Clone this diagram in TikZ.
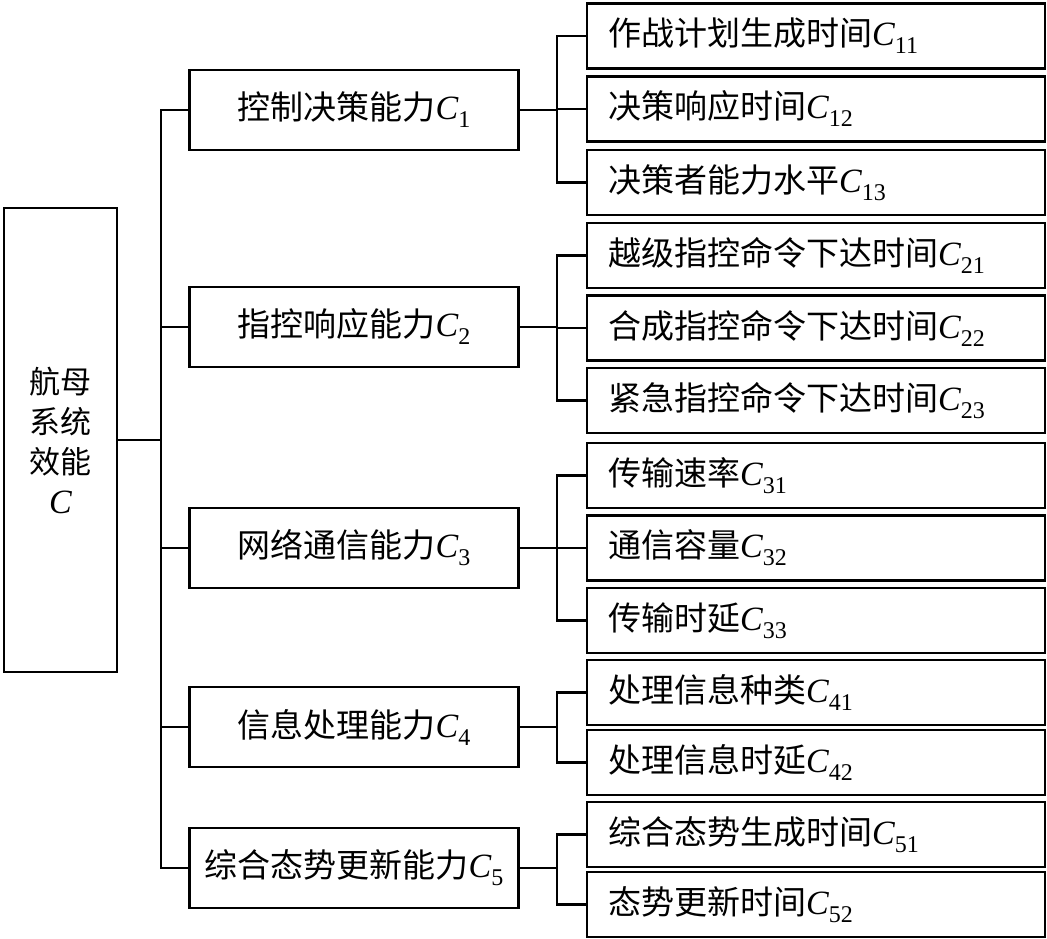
\documentclass[tikz,border=0pt]{standalone}
\usepackage{fontspec}
\setmainfont{Liberation Serif}
\newfontfamily\cjk{Noto Sans CJK SC}
\newcommand\lsub[1]{\raisebox{-8pt}{\fontsize{24}{24}\selectfont #1}}
\newcommand\bigC{{\fontsize{34}{36}\selectfont\textit{C}}}
\newcommand\lab[2]{{\cjk #1}\bigC\lsub{#2}}
\begin{document}
\begin{tikzpicture}[x=1pt,y=-1pt,
  box/.style={draw,line width=2.5pt,inner sep=0pt,font=\fontsize{33}{38}\selectfont},
  leaf/.style={box,minimum height=65pt,inner xsep=21pt,text width=416pt,align=left},
  mid/.style={box,minimum width=329pt,minimum height=80pt,align=center},
  ln/.style={line width=2.5pt,line cap=rect}]
\useasboundingbox (0,0) rectangle (1047,939);
% root
\node[box,minimum width=113pt,minimum height=464pt,align=center,font=\fontsize{31}{40}\selectfont] (R) at (60.5,440)
  {{\cjk 航母}\\{\cjk 系统}\\{\cjk 效能}\\\bigC};
% level 1
\node[mid] (C1) at (354,110) {\lab{控制决策能力}{1}};
\node[mid] (C2) at (354,327) {\lab{指控响应能力}{2}};
\node[mid] (C3) at (354,548) {\lab{网络通信能力}{3}};
\node[mid] (C4) at (354,727) {\lab{信息处理能力}{4}};
\node[mid] (C5) at (354,868) {\lab{综合态势更新能力}{5}};
% leaves
\node[leaf] (L11) at (816,36) {\lab{作战计划生成时间}{11}};
\node[leaf] (L12) at (816,109) {\lab{决策响应时间}{12}};
\node[leaf] (L13) at (816,182.5) {\lab{决策者能力水平}{13}};
\node[leaf] (L21) at (816,255.5) {\lab{越级指控命令下达时间}{21}};
\node[leaf] (L22) at (816,328) {\lab{合成指控命令下达时间}{22}};
\node[leaf] (L23) at (816,400.5) {\lab{紧急指控命令下达时间}{23}};
\node[leaf] (L31) at (816,475.5) {\lab{传输速率}{31}};
\node[leaf] (L32) at (816,548) {\lab{通信容量}{32}};
\node[leaf] (L33) at (816,620.5) {\lab{传输时延}{33}};
\node[leaf] (L41) at (816,692.5) {\lab{处理信息种类}{41}};
\node[leaf] (L42) at (816,762.5) {\lab{处理信息时延}{42}};
\node[leaf] (L51) at (816,834.5) {\lab{综合态势生成时间}{51}};
\node[leaf] (L52) at (816,904.5) {\lab{态势更新时间}{52}};
% trunk
\coordinate (T1) at (161,110);
\coordinate (T5) at (161,868);
\draw[ln] (T1) -- (T5);
\draw[ln] (R.east) -- (R.east -| T1);
\foreach \c in {C1,C2,C3,C4,C5} {\draw[ln] (\c.west) -- (\c.west -| T1);}
% junctions
\foreach \c/\ls in {C1/{L11,L12,L13},C2/{L21,L22,L23},C3/{L31,L32,L33},C4/{L41,L42},C5/{L51,L52}} {
  \draw[ln] (\c.east) -- ++(37,0) coordinate (J\c);
  \foreach \l in \ls {\draw[ln] (\l.west) -| (J\c);}
}
\end{tikzpicture}
\end{document}
